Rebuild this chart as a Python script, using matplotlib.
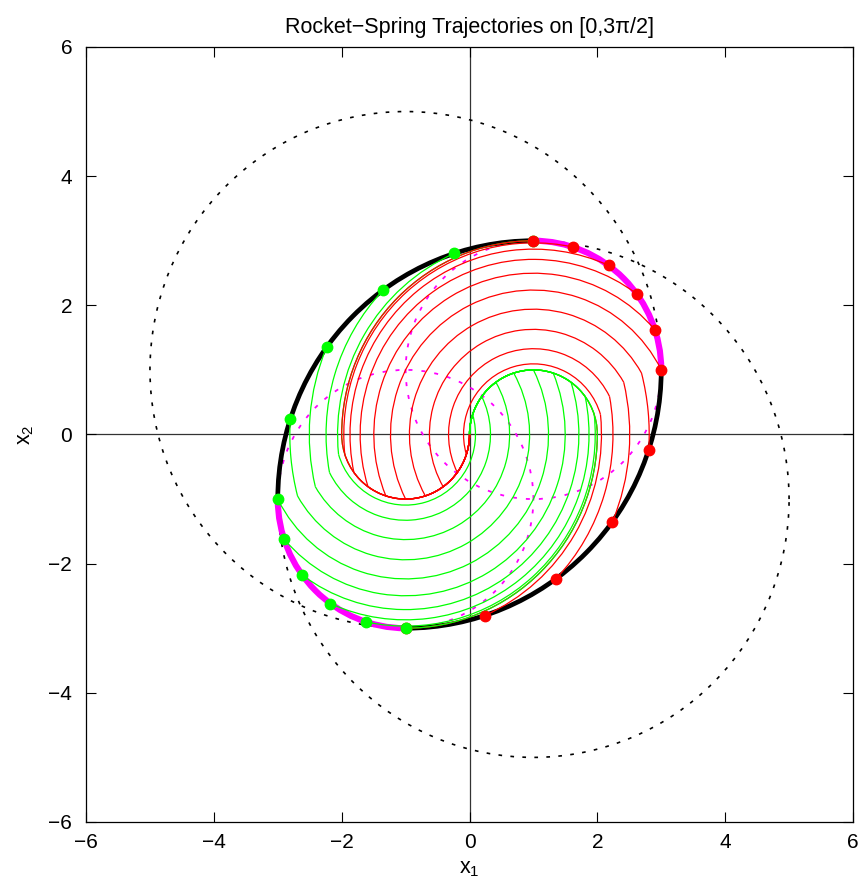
import numpy as np
import matplotlib
matplotlib.use("Agg")
import matplotlib.pyplot as plt
from matplotlib.patches import Arc

plt.rcParams['font.family'] = ['Liberation Sans', 'DejaVu Sans']
plt.rcParams['mathtext.default'] = 'regular'

# ------------------------------------------------------------------
# DATA
# ------------------------------------------------------------------
T_FINAL = 1.5 * np.pi                     # time horizon [0, 3pi/2]
SWITCH_FRAC = [0.0, 0.1, 0.2, 0.3, 0.4, 0.5, 0.6, 0.7, 0.8, 0.9, 1.0]  # first switch time / pi
FAMILIES = [("green", 1.0, "#00ff00"),    # thrust +1 first
            ("red", -1.0, "#ff0000")]     # thrust -1 first

# full circles the boundary arcs belong to: (cx, cy, radius)
OUTER_CIRCLES = [(1, -1, 4), (-1, 1, 4)]
INNER_CIRCLES = [(1, 1, 2), (-1, -1, 2)]
# reachable-set boundary pieces: (cx, cy, radius, theta1, theta2) degrees
BLACK_ARCS = [(1, -1, 4, 90, 180), (-1, 1, 4, 270, 360)]
MAGENTA_ARCS = [(1, 1, 2, 0, 90), (-1, -1, 2, 180, 270)]

TICKS = [-6, -4, -2, 0, 2, 4, 6]
TITLE = "Rocket\u2212Spring Trajectories on [0,3\u03c0/2]"


def trajectory(u0, s):
    """Bang-bang path from the origin: u0 on [0,s], -u0 for pi, then u0 again.
    Returns arcs (cx, r, th1, th2 in rad) and the end point."""
    arcs = []
    t, u, p = 0.0, u0, np.array([0.0, 0.0])
    for t_next in (s, s + np.pi, T_FINAL):
        t_next = min(t_next, T_FINAL)
        d = t_next - t
        if d > 1e-9:
            c = np.array([u, 0.0])
            r = np.hypot(*(p - c))
            a = np.arctan2(p[1] - c[1], p[0] - c[0])
            arcs.append((u, r, a - d, a))     # clockwise motion around c
            p = c + r * np.array([np.cos(a - d), np.sin(a - d)])
        t = t_next
        u = -u
    return arcs, p


fig = plt.figure(figsize=(8.63, 8.83), dpi=100)
ax = fig.add_axes([0.0997, 0.0691, 0.8887, 0.8777])

ax.axhline(0, color="#333333", lw=0.9, zorder=0.5)
ax.axvline(0, color="#333333", lw=0.9, zorder=0.5)

for cx, cy, r in OUTER_CIRCLES:
    ax.add_patch(Arc((cx, cy), 2 * r, 2 * r, theta1=0, theta2=360, color="k",
                     lw=1.2, ls=(0, (2.2, 5)), zorder=1))
for cx, cy, r in INNER_CIRCLES:
    ax.add_patch(Arc((cx, cy), 2 * r, 2 * r, theta1=0, theta2=360, color="#ff00ff",
                     lw=1.3, ls=(0, (2.2, 5)), zorder=1))
for cx, cy, r, t1, t2 in BLACK_ARCS:
    ax.add_patch(Arc((cx, cy), 2 * r, 2 * r, theta1=t1, theta2=t2, color="k",
                     lw=3.4, zorder=1.2))
for cx, cy, r, t1, t2 in MAGENTA_ARCS:
    ax.add_patch(Arc((cx, cy), 2 * r, 2 * r, theta1=t1, theta2=t2, color="#ff00ff",
                     lw=4.4, zorder=1.4))

# trajectories, interleaved green / red per switch time
for frac in SWITCH_FRAC:
    for name, u0, col in FAMILIES:
        arcs, end = trajectory(u0, frac * np.pi)
        for cx, r, a1, a2 in arcs:
            ax.add_patch(Arc((cx, 0), 2 * r, 2 * r, theta1=np.degrees(a1),
                             theta2=np.degrees(a2), color=col, lw=0.9, zorder=1.6))
        ax.plot(end[0], end[1], "o", color=col, mec=col, ms=7.5, zorder=3)

ax.set_xlim(-6, 6)
ax.set_ylim(-6, 6)
ax.set_xticks(TICKS)
ax.set_yticks(TICKS)
ax.tick_params(direction="in", top=True, right=True, length=7, width=0.8,
               labelsize=15)
ax.tick_params(axis="x", pad=8)
ax.tick_params(axis="y", pad=10)
for sp in ax.spines.values():
    sp.set_linewidth(0.9)

ax.set_title(TITLE, fontsize=15.5, pad=10)
ax.set_xlabel("x$_1$", fontsize=15.5, labelpad=4)
ax.set_ylabel("x$_2$", fontsize=15.5, labelpad=9)

fig.savefig("out.png", dpi=100)
